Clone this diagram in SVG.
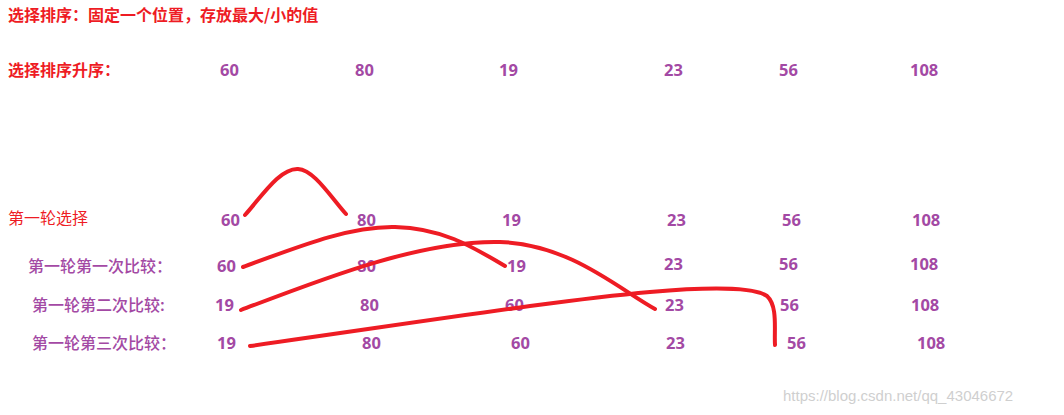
<svg xmlns="http://www.w3.org/2000/svg" width="1064" height="415" viewBox="0 0 1064 415">
<style>
.t{font-family:"Noto Sans CJK SC",sans-serif;font-size:16px;fill:#ee1c24;font-weight:bold}
.r{font-family:"Noto Sans CJK SC",sans-serif;font-size:16px;fill:#ee1c24}
.l{font-family:"Noto Sans CJK SC",sans-serif;font-size:16px;fill:#a349a4;font-weight:500}
.n{font-family:"Open Sans","Noto Sans",sans-serif;font-size:16.5px;fill:#a349a4;font-weight:bold}
.c{fill:none;stroke:#ee1c24;stroke-width:4;stroke-linecap:round}
.w{font-family:"Liberation Sans",Arial,sans-serif;font-size:15px;fill:#cfcfcf}
</style>
<rect width="1064" height="415" fill="#fff"/>
<g id="title"><text class="t" x="8" y="21">选择排序：固定一个位置，存放最大/小的值</text></g>
<g id="row0">
<text class="t" x="8" y="76">选择排序升序：</text>
<text class="n" x="220" y="76">60</text><text class="n" x="355" y="76">80</text><text class="n" x="499" y="76">19</text><text class="n" x="664" y="76">23</text><text class="n" x="779" y="76">56</text><text class="n" x="910" y="76">108</text>
</g>
<g id="row1">
<text class="r" x="8" y="224">第一轮选择</text>
<text class="n" x="221" y="226">60</text><text class="n" x="357" y="226">80</text><text class="n" x="502" y="226">19</text><text class="n" x="667" y="226">23</text><text class="n" x="782" y="226">56</text><text class="n" x="912" y="226">108</text>
</g>
<g id="row2">
<text class="l" x="28" y="272">第一轮第一次比较：</text>
<text class="n" x="217" y="272">60</text><text class="n" x="357" y="272">80</text><text class="n" x="507" y="272">19</text><text class="n" x="664" y="270">23</text><text class="n" x="779" y="270">56</text><text class="n" x="910" y="270">108</text>
</g>
<g id="row3">
<text class="l" x="32" y="311">第一轮第二次比较:</text>
<text class="n" x="215" y="311">19</text><text class="n" x="360" y="311">80</text><text class="n" x="505" y="311">60</text><text class="n" x="665" y="311">23</text><text class="n" x="780" y="311">56</text><text class="n" x="911" y="311">108</text>
</g>
<g id="row4">
<text class="l" x="32" y="349">第一轮第三次比较：</text>
<text class="n" x="217" y="349">19</text><text class="n" x="362" y="349">80</text><text class="n" x="511" y="349">60</text><text class="n" x="666" y="349">23</text><text class="n" x="787" y="349">56</text><text class="n" x="917" y="349">108</text>
</g>
<g id="connectors">
<path class="c" d="M245,215 C262,196 280,168 298,169 C314,170 330,196 346,214"/>
<path class="c" d="M243,267 C300,246 350,226 395,227 C440,228 470,245 505,266"/>
<path class="c" d="M241,310 C320,280 420,240 500,242 C570,244 620,290 655,309"/>
<path class="c" d="M250,346 C420,322 560,300 650,292 C720,286 755,288 767,296 C778,306 774,330 775,345"/>
</g>
<g id="watermark"><text class="w" x="783" y="401">https://blog.csdn.net/qq_43046672</text></g>
</svg>
